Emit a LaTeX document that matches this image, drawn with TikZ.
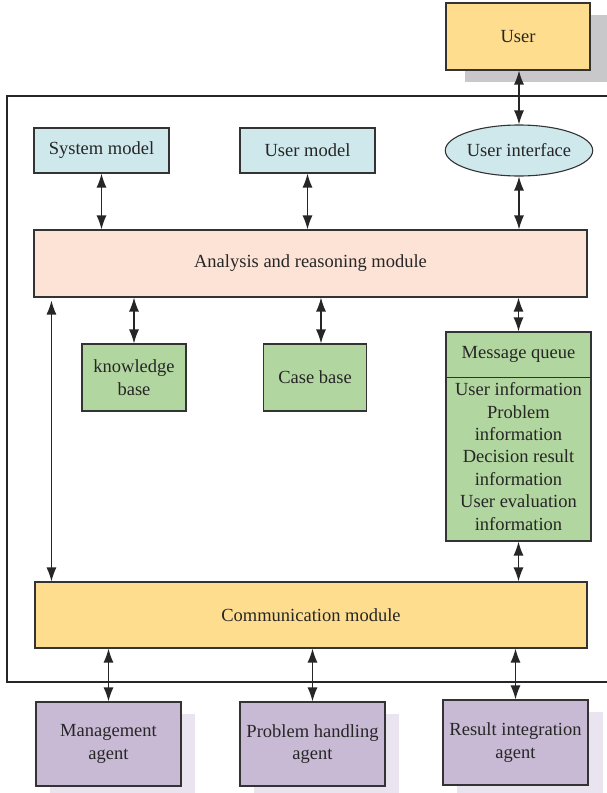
\documentclass[tikz,border=0pt]{standalone}
\usepackage{fontspec}
\setmainfont{Liberation Serif}
\usetikzlibrary{arrows.meta,shapes.geometric}
\definecolor{cyanfill}{HTML}{CFE8EC}
\definecolor{yelfill}{HTML}{FEDD8E}
\definecolor{peachfill}{HTML}{FDE3D5}
\definecolor{greenfill}{HTML}{B2D6A0}
\definecolor{purpfill}{HTML}{C8BAD5}
\definecolor{purpshadow}{HTML}{E9E4EF}
\definecolor{grayshadow}{HTML}{C8C8CA}
\definecolor{edge}{HTML}{333333}
\tikzset{
  box/.style={draw=edge, line width=1.1pt, rectangle, inner sep=0pt, align=center,
    font=\fontsize{18.5}{22.4}\selectfont, text=black!85},
  conn/.style={line width=1.2pt, draw=black!85, {Latex[length=14pt,width=10pt]}-{Latex[length=14pt,width=10pt]}},
}
\begin{document}
\begin{tikzpicture}[x=1pt,y=-1pt]
\useasboundingbox (0,0) rectangle (606,793);
% frame
\draw[line width=1.1pt, draw=black!85] (607,96) -- (7,96) -- (7,682) -- (607,682);
% shadows
\fill[grayshadow] (465,15) rectangle (610,82);
\fill[purpshadow] (50,714) rectangle (195,796);
\fill[purpshadow] (254,714) rectangle (399,796);
\fill[purpshadow] (457,712) rectangle (603,796);
% nodes
\node[box, fill=yelfill, minimum width=144pt, minimum height=67pt] (user) at (518,36.5) {User};
\node[box, fill=cyanfill, minimum width=135pt, minimum height=45pt] (sysm) at (101.5,150.5) {System model};
\node[box, fill=cyanfill, minimum width=135pt, minimum height=45pt] (userm) at (307.5,150.5) {User model};
\node[box, ellipse, fill=cyanfill, minimum width=146pt, minimum height=51pt] (ui) at (519,150.5) {User interface};
\node[box, fill=peachfill, minimum width=553pt, minimum height=67pt] (ana) at (310.5,263.5) {Analysis and reasoning module};
\node[box, fill=greenfill, minimum width=104pt, minimum height=67pt] (kb) at (134,377.5) {knowledge\\base};
\node[box, fill=greenfill, minimum width=103pt, minimum height=67pt] (cb) at (315,377.5) {Case base};
\node[box, fill=greenfill, minimum width=145pt, minimum height=209pt] (mq) at (518.5,436.5) {};
\draw[line width=1.1pt, draw=edge] ([yshift=-46pt]mq.north west) -- ([yshift=-46pt]mq.north east);
\node[font=\fontsize{18.5}{22.4}\selectfont, text=black!85, inner sep=0pt] (mqt) at ([yshift=-23pt]mq.north) {Message queue};
\node[font=\fontsize{18.5}{22.4}\selectfont, text=black!85, inner sep=0pt, align=center] (mqb) at ([yshift=-125pt]mq.north) {User information\\Problem\\information\\Decision result\\information\\User evaluation\\information};
\node[box, fill=yelfill, minimum width=552pt, minimum height=66pt] (comm) at (311,615) {Communication module};
\node[box, fill=purpfill, minimum width=145pt, minimum height=84pt] (ma) at (108.5,744) {Management\\agent};
\node[box, fill=purpfill, minimum width=145pt, minimum height=84pt] (pa) at (312.5,744) {Problem handling\\agent};
\node[box, fill=purpfill, minimum width=145pt, minimum height=85pt] (ra) at (515.5,742.5) {Result integration\\agent};
% connectors
\draw[conn] (user.south -| ui.north) -- (ui.north);
\draw[conn] (sysm.south) -- (sysm.south |- ana.north);
\draw[conn] (userm.south) -- (userm.south |- ana.north);
\draw[conn] (ui.south) -- (ui.south |- ana.north);
\draw[conn] (ana.south -| kb.north) -- (kb.north);
\draw[conn] ([xshift=6pt]cb.north |- ana.south) -- ([xshift=6pt]cb.north);
\draw[conn] (ana.south -| mq.north) -- (mq.north);
\draw[conn] ([xshift=18pt,yshift=-3pt]ana.south west) -- ([xshift=18pt]ana.south west |- comm.north);
\draw[conn] (mq.south) -- (mq.south |- comm.north);
\draw[conn] (comm.south -| ma.north) -- (ma.north);
\draw[conn] (comm.south -| pa.north) -- (pa.north);
\draw[conn] (comm.south -| ra.north) -- (ra.north);
\end{tikzpicture}
\end{document}
